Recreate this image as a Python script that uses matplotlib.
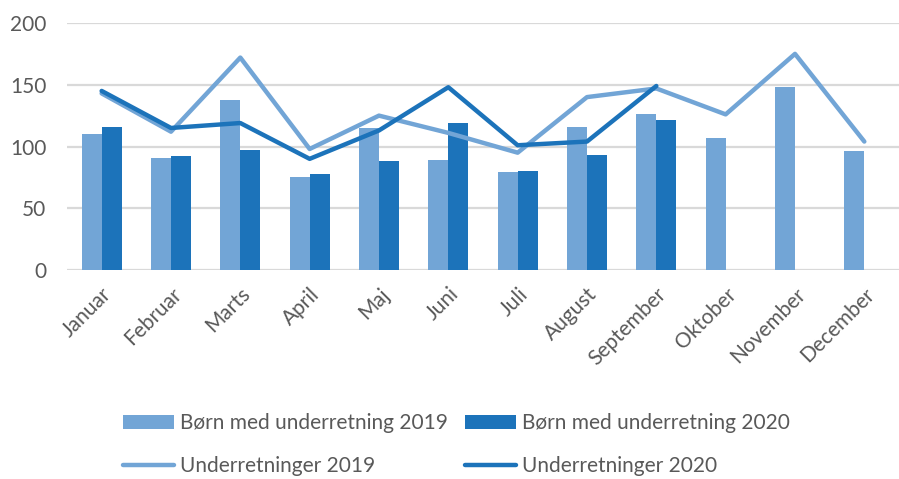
import matplotlib
matplotlib.use("Agg")
import matplotlib.pyplot as plt
import numpy as np

months = ["Januar", "Februar", "Marts", "April", "Maj", "Juni", "Juli",
          "August", "September", "Oktober", "November", "December"]
born_2019 = [110, 91, 138, 75, 115, 89, 79, 116, 126, 107, 148, 96]
born_2020 = [116, 92, 97.5, 78, 88, 119, 80, 93, 121.5]
under_2019 = [143, 112, 172, 98, 125, 111, 95, 140, 147, 126, 175, 104]
under_2020 = [145, 115, 119, 90, 113, 148, 101, 104, 149]

light = "#72A5D6"
dark = "#1C73BA"
grey = "#595959"

plt.rcParams['font.family'] = ['Lato', 'DejaVu Sans']

fig = plt.figure(figsize=(8.99, 4.79), dpi=100)
ax = fig.add_axes([0.0745, 0.4363, 0.9255, 0.5157])

x = np.arange(len(months))
w = 0.29
b1 = ax.bar(x - w / 2, born_2019, width=w, color=light, label="Børn med underretning 2019", zorder=2)
b2 = ax.bar(x[:len(born_2020)] + w / 2, born_2020, width=w, color=dark, label="Børn med underretning 2020", zorder=2)
l1, = ax.plot(x, under_2019, color=light, lw=3.2, label="Underretninger 2019", zorder=3,
              solid_capstyle="round", solid_joinstyle="round")
l2, = ax.plot(x[:len(under_2020)], under_2020, color=dark, lw=3.2, label="Underretninger 2020", zorder=4,
              solid_capstyle="round", solid_joinstyle="round")

ax.set_xlim(-0.5, 11.5)
ax.set_ylim(0, 200)
ax.set_yticks([0, 50, 100, 150, 200])
ax.yaxis.grid(True, color="#D9D9D9", lw=1.6, zorder=0)
ax.set_axisbelow(True)
for s in ax.spines.values():
    s.set_visible(False)
ax.tick_params(axis="both", length=0, colors=grey, labelsize=15)
ax.tick_params(axis="y", pad=15)
ax.set_xticks(x)
ax.set_xticklabels(months, rotation=45, ha="right", rotation_mode="anchor")
ax.tick_params(axis="x", pad=10)

handles = [b1, l1, b2, l2]
labels = [h.get_label() for h in handles]
leg = fig.legend(handles, labels, loc="lower left", bbox_to_anchor=(0.116, -0.033), ncol=2, frameon=False,
                 fontsize=15, handlelength=2.45, handletextpad=0.3, columnspacing=0.8,
                 labelspacing=1.1, labelcolor=grey)
fig.savefig("out.png", dpi=100)
